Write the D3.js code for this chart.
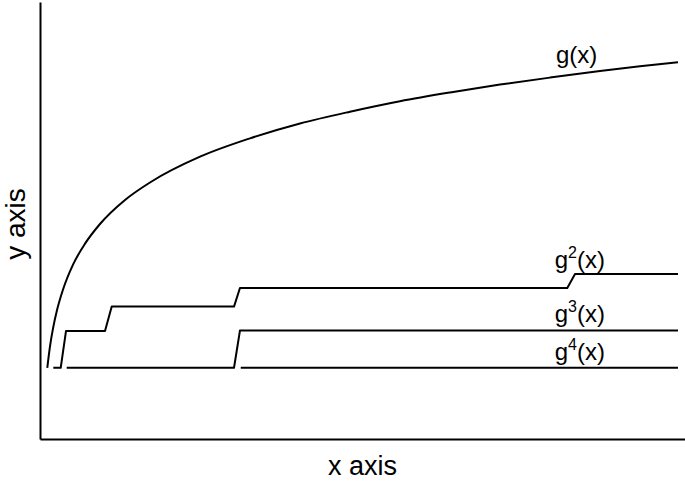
<!DOCTYPE html>
<html>
<head>
<meta charset="utf-8">
<script src="https://cdn.jsdelivr.net/npm/d3@7"></script>
<style>
  body { margin: 0; background: #fff; }
  text { font-family: "Liberation Sans", Arial, Helvetica, sans-serif; fill: #000; }
</style>
</head>
<body>
<svg id="chart"></svg>
<script>
// values (x: 0..100, y: 0..100)
const gX = [1.13, 1.55, 2.02, 2.64, 3.57, 5.12, 6.98, 9.30, 13.18, 17.05, 24.81, 32.56, 40.31, 48.06, 55.81, 63.57, 71.32, 79.07, 86.82, 93.02, 98.91];
const gY = [16.3, 21.2, 25.3, 29.5, 34.2, 39.9, 44.7, 49.2, 54.7, 58.7, 64.6, 68.8, 72.2, 74.9, 77.3, 79.3, 81.1, 82.7, 84.2, 85.3, 86.2];

const g2X = [2.06, 3.21, 4.03, 10.08, 11.12, 30.08, 31.0, 81.75, 82.95, 98.91];
const g2Y = [16.3, 16.3, 24.7, 24.7, 30.3, 30.3, 34.55, 34.55, 37.76, 37.76];

const g3X = [4.14, 30.08, 31.0, 98.91];
const g3Y = [16.3, 16.3, 24.8, 24.8];

const g4X = [31.12, 98.91];
const g4Y = [16.3, 16.3];

const labelNames = ["g", "g", "g", "g"];
const labelPowers = ["", "2", "3", "4"];
const labelX = [80.0, 79.8, 79.8, 79.8];
const labelY = [86.0, 39.1, 26.8, 18.1];

const width = 685, height = 481;
const margin = { top: 2, right: 0, bottom: 42, left: 40 };

const svg = d3.select("#chart")
  .attr("width", width)
  .attr("height", height);

const x = d3.scaleLinear()
  .domain([0, 100])
  .range([margin.left, width - margin.right]);
const y = d3.scaleLinear()
  .domain([0, 100])
  .range([height - margin.bottom, margin.top]);

// axes without ticks, just the frame lines
svg.append("g")
  .attr("transform", `translate(0,${height - margin.bottom})`)
  .call(d3.axisBottom(x).tickValues([]).tickSizeOuter(0))
  .call(g => g.select(".domain").attr("stroke", "#000").attr("stroke-width", 2));
svg.append("g")
  .attr("transform", `translate(${margin.left},0)`)
  .call(d3.axisLeft(y).tickValues([]).tickSizeOuter(0))
  .call(g => g.select(".domain").attr("stroke", "#000").attr("stroke-width", 2));

const series = [
  { xs: gX, ys: gY, curve: d3.curveMonotoneX },
  { xs: g2X, ys: g2Y, curve: d3.curveLinear },
  { xs: g3X, ys: g3Y, curve: d3.curveLinear },
  { xs: g4X, ys: g4Y, curve: d3.curveLinear }
];

series.forEach(s => {
  const pts = s.xs.map((v, i) => [v, s.ys[i]]);
  const line = d3.line()
    .x(d => x(d[0]))
    .y(d => y(d[1]))
    .curve(s.curve);
  svg.append("path")
    .datum(pts)
    .attr("d", line)
    .attr("fill", "none")
    .attr("stroke", "#000")
    .attr("stroke-width", 2)
    .attr("stroke-linejoin", "round");
});

// curve labels with superscript powers
labelNames.forEach((name, i) => {
  const t = svg.append("text")
    .attr("x", x(labelX[i]))
    .attr("y", y(labelY[i]))
    .style("font-size", "24px");
  t.append("tspan").text(name);
  if (labelPowers[i]) {
    t.append("tspan").attr("dy", -10).style("font-size", "16px").text(labelPowers[i]);
    t.append("tspan").attr("dy", 10).text("(x)");
  } else {
    t.append("tspan").text("(x)");
  }
});

// axis titles
svg.append("text")
  .attr("x", x(50))
  .attr("y", 475)
  .attr("text-anchor", "middle")
  .style("font-size", "27px")
  .text("x axis");
svg.append("text")
  .attr("transform", `translate(25,${y(49.2)}) rotate(-90)`)
  .attr("text-anchor", "middle")
  .style("font-size", "28px")
  .text("y axis");
</script>
</body>
</html>
